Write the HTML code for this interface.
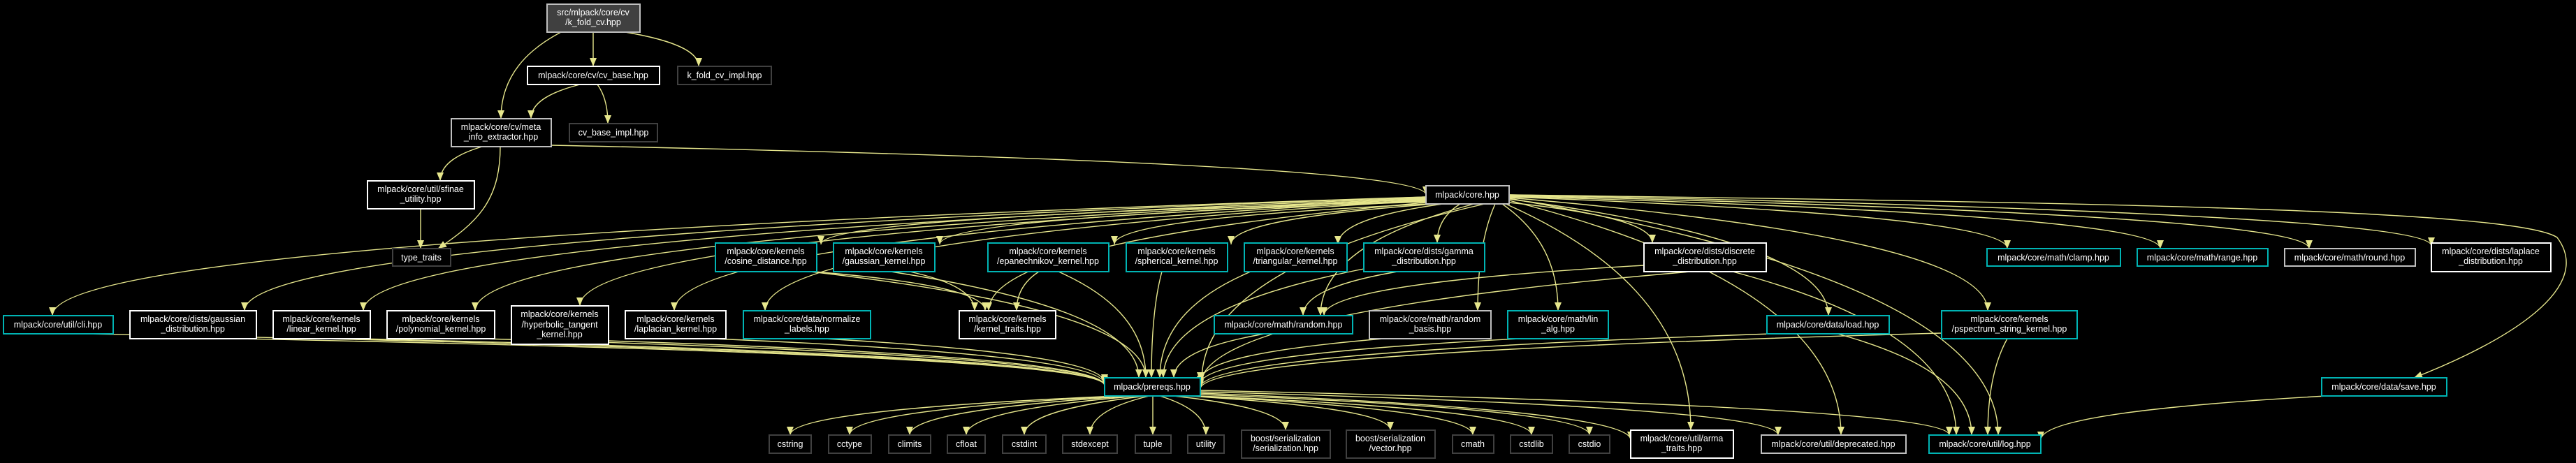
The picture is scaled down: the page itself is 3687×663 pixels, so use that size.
<!DOCTYPE html>
<html><head><meta charset="utf-8"><style>
html,body{margin:0;padding:0;background:#000;width:3687px;height:663px;overflow:hidden}
svg{display:block}
text{font-family:"Liberation Sans",sans-serif;font-size:12.5px;fill:#fff;text-anchor:middle}
.c{fill:#000;stroke:#00b4b4;stroke-width:2}
.w{fill:#000;stroke:#fff;stroke-width:2}
.g{fill:#000;stroke:#bfbfbf;stroke-width:2}
.d{fill:#000;stroke:#404040;stroke-width:2}
.r{fill:#404040;stroke:#bfbfbf;stroke-width:2}
#edges path{fill:none;stroke:#e6e68c;stroke-width:1.4}
</style></head><body>
<svg id="s" width="3687" height="663" xmlns="http://www.w3.org/2000/svg">
<defs><marker id="a" markerUnits="userSpaceOnUse" markerWidth="14" markerHeight="12" refX="12" refY="5" orient="auto"><path d="M0,0 L12,5 L0,10 z" fill="#e6e68c"/></marker></defs>
<g id="edges"></g>
<g>
<rect class="r" x="783" y="6" width="133" height="40"/><text x="849" y="22">src/mlpack/core/cv</text><text x="849" y="36">/k_fold_cv.hpp</text>
<rect class="w" x="755" y="95" width="189" height="26"/><text x="849" y="112">mlpack/core/cv/cv_base.hpp</text>
<rect class="d" x="970" y="95" width="134" height="26"/><text x="1037" y="112">k_fold_cv_impl.hpp</text>
<rect class="g" x="646" y="170" width="143" height="40"/><text x="717" y="186">mlpack/core/cv/meta</text><text x="717" y="200">_info_extractor.hpp</text>
<rect class="d" x="815" y="177" width="126" height="26"/><text x="878" y="194">cv_base_impl.hpp</text>
<rect class="w" x="526" y="259" width="153" height="40"/><text x="602" y="275">mlpack/core/util/sfinae</text><text x="602" y="289">_utility.hpp</text>
<rect class="d" x="562" y="356" width="83" height="25"/><text x="603" y="373">type_traits</text>
<rect class="g" x="2041" y="266" width="119" height="26"/><text x="2100" y="283">mlpack/core.hpp</text>

<rect class="c" x="1024" y="348" width="145" height="41"/><text x="1096" y="364">mlpack/core/kernels</text><text x="1096" y="378">/cosine_distance.hpp</text>
<rect class="c" x="1193" y="348" width="145" height="41"/><text x="1265" y="364">mlpack/core/kernels</text><text x="1265" y="378">/gaussian_kernel.hpp</text>
<rect class="c" x="1414" y="348" width="173" height="41"/><text x="1500" y="364">mlpack/core/kernels</text><text x="1500" y="378">/epanechnikov_kernel.hpp</text>
<rect class="c" x="1612" y="348" width="145" height="41"/><text x="1684" y="364">mlpack/core/kernels</text><text x="1684" y="378">/spherical_kernel.hpp</text>
<rect class="c" x="1781" y="348" width="147" height="41"/><text x="1854" y="364">mlpack/core/kernels</text><text x="1854" y="378">/triangular_kernel.hpp</text>
<rect class="c" x="1952" y="348" width="173" height="41"/><text x="2038" y="364">mlpack/core/dists/gamma</text><text x="2038" y="378">_distribution.hpp</text>
<rect class="w" x="2353" y="348" width="175" height="41"/><text x="2440" y="364">mlpack/core/dists/discrete</text><text x="2440" y="378">_distribution.hpp</text>
<rect class="c" x="2844" y="356" width="191" height="25"/><text x="2939" y="373">mlpack/core/math/clamp.hpp</text>
<rect class="c" x="3059" y="356" width="187" height="25"/><text x="3152" y="373">mlpack/core/math/range.hpp</text>
<rect class="g" x="3270" y="356" width="187" height="25"/><text x="3363" y="373">mlpack/core/math/round.hpp</text>
<rect class="w" x="3480" y="348" width="171" height="41"/><text x="3565" y="364">mlpack/core/dists/laplace</text><text x="3565" y="378">_distribution.hpp</text>

<rect class="c" x="5" y="452" width="157" height="26"/><text x="83" y="469">mlpack/core/util/cli.hpp</text>
<rect class="w" x="186" y="445" width="181" height="40"/><text x="276" y="461">mlpack/core/dists/gaussian</text><text x="276" y="475">_distribution.hpp</text>
<rect class="w" x="391" y="445" width="139" height="40"/><text x="460" y="461">mlpack/core/kernels</text><text x="460" y="475">/linear_kernel.hpp</text>
<rect class="w" x="554" y="445" width="154" height="40"/><text x="631" y="461">mlpack/core/kernels</text><text x="631" y="475">/polynomial_kernel.hpp</text>
<rect class="w" x="732" y="438" width="139" height="55"/><text x="801" y="454">mlpack/core/kernels</text><text x="801" y="469">/hyperbolic_tangent</text><text x="801" y="483">_kernel.hpp</text>
<rect class="w" x="895" y="445" width="144" height="40"/><text x="967" y="461">mlpack/core/kernels</text><text x="967" y="475">/laplacian_kernel.hpp</text>
<rect class="c" x="1064" y="445" width="182" height="40"/><text x="1155" y="461">mlpack/core/data/normalize</text><text x="1155" y="475">_labels.hpp</text>
<rect class="w" x="1373" y="445" width="138" height="40"/><text x="1442" y="461">mlpack/core/kernels</text><text x="1442" y="475">/kernel_traits.hpp</text>
<rect class="c" x="1738" y="452" width="198" height="26"/><text x="1837" y="469">mlpack/core/math/random.hpp</text>
<rect class="g" x="1960" y="445" width="174" height="40"/><text x="2047" y="461">mlpack/core/math/random</text><text x="2047" y="475">_basis.hpp</text>
<rect class="c" x="2158" y="445" width="144" height="40"/><text x="2230" y="461">mlpack/core/math/lin</text><text x="2230" y="475">_alg.hpp</text>
<rect class="c" x="2529" y="452" width="175" height="26"/><text x="2616" y="469">mlpack/core/data/load.hpp</text>
<rect class="c" x="2779" y="445" width="194" height="40"/><text x="2876" y="461">mlpack/core/kernels</text><text x="2876" y="475">/pspectrum_string_kernel.hpp</text>

<rect class="c" x="1581" y="541" width="137" height="26"/><text x="1649" y="558">mlpack/prereqs.hpp</text>
<rect class="c" x="3323" y="541" width="179" height="26"/><text x="3412" y="558">mlpack/core/data/save.hpp</text>

<rect class="d" x="1101" y="623" width="60" height="26"/><text x="1131" y="640">cstring</text>
<rect class="d" x="1186" y="623" width="61" height="26"/><text x="1216" y="640">cctype</text>
<rect class="d" x="1272" y="623" width="60" height="26"/><text x="1302" y="640">climits</text>
<rect class="d" x="1356" y="623" width="54" height="26"/><text x="1383" y="640">cfloat</text>
<rect class="d" x="1435" y="623" width="62" height="26"/><text x="1466" y="640">cstdint</text>
<rect class="d" x="1521" y="623" width="78" height="26"/><text x="1560" y="640">stdexcept</text>
<rect class="d" x="1625" y="623" width="51" height="26"/><text x="1650" y="640">tuple</text>
<rect class="d" x="1700" y="623" width="52" height="26"/><text x="1726" y="640">utility</text>
<rect class="d" x="1777" y="616" width="127" height="40"/><text x="1840" y="632">boost/serialization</text><text x="1840" y="646">/serialization.hpp</text>
<rect class="d" x="1927" y="616" width="127" height="40"/><text x="1990" y="632">boost/serialization</text><text x="1990" y="646">/vector.hpp</text>
<rect class="d" x="2079" y="623" width="59" height="26"/><text x="2108" y="640">cmath</text>
<rect class="d" x="2162" y="623" width="60" height="26"/><text x="2192" y="640">cstdlib</text>
<rect class="d" x="2246" y="623" width="58" height="26"/><text x="2275" y="640">cstdio</text>
<rect class="w" x="2334" y="616" width="147" height="40"/><text x="2407" y="632">mlpack/core/util/arma</text><text x="2407" y="646">_traits.hpp</text>
<rect class="g" x="2521" y="623" width="207" height="26"/><text x="2624" y="640">mlpack/core/util/deprecated.hpp</text>
<rect class="c" x="2761" y="623" width="160" height="26"/><text x="2841" y="640">mlpack/core/util/log.hpp</text>
</g>
</svg>
<script>
var E=[
[803,46,717,170],[849,46,849,95],[895,46,1000,95],[830,121,760,170],[855,121,870,177],
[690,210,630,259],[602,299,602,356],[789,208,2041,279],
[2041,282,75,452],[2041,282,350,445],[2041,283,520,445],[2041,284,680,445],[2041,285,830,438],
[2041,286,965,445],[2041,287,1095,445],[2041,288,1175,350],[2041,289,1345,350],[2041,290,1415,445],
[2045,292,1595,350],[2055,292,1762,350],[2065,292,1915,350],[2090,292,2057,348],[2110,292,1890,452],
[2140,292,2115,445],[2150,292,2230,445],[2125,292,1720,545],[2160,290,2365,348],[2160,285,2617,452],
[2160,283,2845,445],[2155,292,2420,616],[2160,287,2635,623],[2160,284,2860,623],[2160,282,2873,356],
[2160,281,3092,356],[2160,280,3305,356],[2160,279,3480,352],
[115,478,1581,552],[340,485,1581,552],[512,485,1581,552],[690,485,1581,552],[870,488,1581,552],
[1020,485,1581,550],[1180,485,1581,548],[1160,389,1640,541],[1275,389,1630,541],[1515,389,1640,541],
[1663,389,1648,541],[1790,389,1660,541],[1952,385,1665,541],[1810,478,1680,541],[1980,485,1718,545],
[2175,485,1718,550],[2420,389,1718,552],[2535,478,1718,555],[2779,477,1718,557],
[1165,389,1410,445],[1302,389,1395,445],[1487,389,1455,445],[2000,389,1865,452],[2353,380,1895,452],
[2480,389,2800,623],[2630,478,2822,623],[2873,485,2845,623],[3330,567,2921,630],
[1600,567,1131,623],[1610,567,1216,623],[1620,567,1302,623],[1630,567,1383,623],[1640,567,1466,623],
[1645,567,1560,623],[1650,567,1650,623],[1660,567,1726,623],[1680,567,1840,616],[1700,567,1990,616],
[1710,567,2108,623],[1715,567,2192,623],[1718,565,2275,623],[1718,563,2334,630],[1718,561,2545,623],[1718,559,2790,623]
];
var g=document.getElementById('edges'),h='';
E.forEach(function(e){var sx=e[0],sy=e[1],ex=e[2],ey=e[3];
var c1x=sx+(ex-sx)*0.55,c1y=sy+(ey-sy)*0.2,c2x=ex,c2y=ey-(ey-sy)*0.5;
h+='<path marker-end="url(#a)" d="M'+sx+','+sy+' C'+c1x+','+c1y+' '+c2x+','+c2y+' '+ex+','+ey+'"/>';});
h+='<path marker-end="url(#a)" d="M716,210 C716,290 680,320 627,356"/>';
h+='<path marker-end="url(#a)" d="M2160,279 C3000,290 3600,300 3660,340 C3720,420 3560,500 3455,541"/>';
g.innerHTML=h;
</script>
</body></html>
